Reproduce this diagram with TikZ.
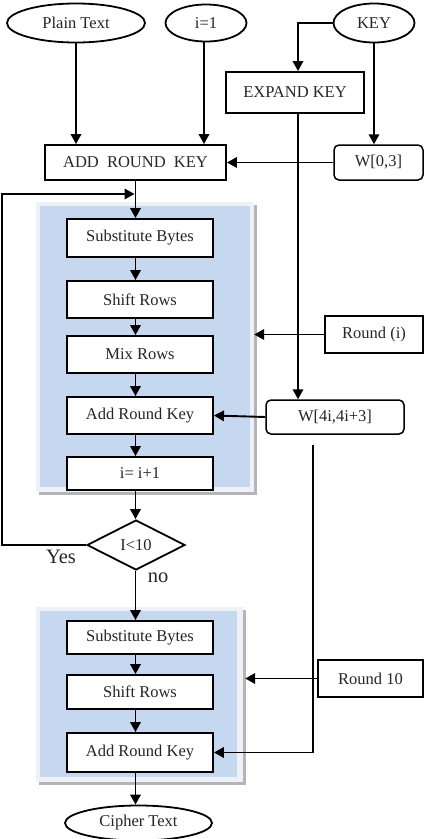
\documentclass[tikz,border=0pt]{standalone}
\usepackage{fontspec}
\setmainfont{Liberation Serif}
\usetikzlibrary{shapes.geometric,arrows.meta}
\definecolor{bgblue}{HTML}{C6D8F0}
\definecolor{bglight}{HTML}{EEF2F8}
\definecolor{bgshadow}{HTML}{B5B5B5}
\definecolor{txt}{HTML}{262626}
\tikzset{
  every node/.style={font=\fontsize{16.5}{19}\selectfont, text=txt},
  stepbox/.style={draw, line width=1.9pt, fill=white, rectangle, inner sep=0pt},
  rbox/.style={draw, line width=1.5pt, fill=white, rectangle, rounded corners=5pt, inner sep=0pt},
  ell/.style={draw, line width=1.8pt, fill=white, ellipse, inner sep=0pt},
  dia/.style={draw, line width=1.8pt, fill=white, diamond, inner sep=0pt},
  arr/.style={line width=1.9pt, -{Triangle[length=10pt,width=10.5pt]}},
  ln/.style={line width=1.9pt},
  outerbg/.style={fill=bglight, inner sep=0pt, rectangle},
  innerbg/.style={fill=bgblue, inner sep=0pt, rectangle},
  lbl/.style={font=\fontsize{20.5}{24}\selectfont, inner sep=0pt}
}
\begin{document}
\begin{tikzpicture}[x=1pt,y=-1pt]
\useasboundingbox (0,0) rectangle (429,839);
\fill[white] (0,0) rectangle (429,839);
% background panels
\fill[bgshadow] (39,205) rectangle (257,495);
\node[outerbg, minimum width=218pt, minimum height=290pt] (bg1) at (145,347) {};
\node[innerbg, minimum width=210pt, minimum height=281pt] (bg1in) at (145,346.5) {};
\fill[bgshadow] (38.5,610) rectangle (245.5,785);
\node[outerbg, minimum width=207pt, minimum height=175pt] (bg2) at (139.5,694.5) {};
\node[innerbg, minimum width=197pt, minimum height=166pt] (bg2in) at (138.5,694) {};
% top nodes
\node[ell, minimum width=138pt, minimum height=39pt] (pt) at (76,23) {Plain Text};
\node[ell, minimum width=81pt, minimum height=37pt] (i1) at (206,23) {i=1};
\node[ell, minimum width=81pt, minimum height=39pt] (key) at (374,23) {KEY};
\node[stepbox, minimum width=138pt, minimum height=41pt] (exp) at (295,92.5) {EXPAND KEY};
\node[stepbox, minimum width=181pt, minimum height=35pt] (ark) at (135.5,162.5) {ADD\ \ ROUND\ \ KEY};
\node[rbox, minimum width=89pt, minimum height=35pt] (w03) at (378.5,162.5) {W[0,3]};
% round loop
\node[stepbox, minimum width=146pt, minimum height=38pt] (sb1) at (140,238) {Substitute Bytes};
\node[stepbox, minimum width=146pt, minimum height=37pt] (sr1) at (140,299.5) {Shift Rows};
\node[stepbox, minimum width=146pt, minimum height=37pt] (mr1) at (140,354.5) {Mix Rows};
\node[stepbox, minimum width=146pt, minimum height=37pt] (ark1) at (140,415.5) {Add Round Key};
\node[stepbox, minimum width=146pt, minimum height=33pt] (inc) at (140,473.5) {i= i+1};
\node[dia, minimum width=98pt, minimum height=50pt] (cond) at (136,545) {I<10};
\node[stepbox, minimum width=98pt, minimum height=37pt] (rdi) at (374,334.5) {Round (i)};
\node[rbox, minimum width=138pt, minimum height=34pt] (w4) at (335,417) {W[4i,4i+3]};
% final round
\node[stepbox, minimum width=146pt, minimum height=33pt] (sb2) at (140,637.5) {Substitute Bytes};
\node[stepbox, minimum width=146pt, minimum height=34pt] (sr2) at (140,692) {Shift Rows};
\node[stepbox, minimum width=146pt, minimum height=39pt] (ark2) at (140,752.5) {Add Round Key};
\node[stepbox, minimum width=105pt, minimum height=37pt] (rd10) at (370.5,678.5) {Round 10};
\node[ell, minimum width=147pt, minimum height=35pt] (ct) at (138.5,823) {Cipher Text};
% labels
\node[lbl] (yes) at (61,557) {Yes};
\node[lbl] (no) at (158,578) {no};
% coordinates
\coordinate (col) at (135.5,0);
\coordinate (loopin) at (135.5,194);
\coordinate (loopx) at (2,0);
\coordinate (w4tail) at (313,445);
% connectors top
\draw[arr] (pt.south) -- (pt.south |- ark.north);
\draw[arr] ([xshift=-2pt]i1.south) -- ([xshift=-2pt]i1.south |- ark.north);
\draw[arr] (key.west) -| ([xshift=3pt]exp.north);
\draw[arr] (key.south) -- (key.south |- w03.north);
\draw[arr] (w03.west) -- (ark.east);
\draw[arr] ([xshift=3pt]exp.south) -- ([xshift=3pt]exp.south |- w4.north);
% main column
\draw[arr] (ark.south) -- (col |- sb1.north);
\draw[arr] (col |- sb1.south) -- (col |- sr1.north);
\draw[arr] (col |- sr1.south) -- (col |- mr1.north);
\draw[arr] (col |- mr1.south) -- (col |- ark1.north);
\draw[arr] (col |- ark1.south) -- (col |- inc.north);
\draw[arr] (col |- inc.south) -- (col |- cond.north);
\draw[arr] (col |- cond.south) -- (col |- sb2.north);
\draw[arr] (col |- sb2.south) -- (col |- sr2.north);
\draw[arr] (col |- sr2.south) -- (col |- ark2.north);
\draw[arr] (col |- ark2.south) -- (col |- ct.north);
% loop back
\draw[arr] (cond.west) -- (loopx |- cond.west) -- (loopx |- loopin) -- ([xshift=-1pt]loopin);
% side inputs
\draw[arr] (rdi.west) -- (bg1.east |- rdi.west);
\draw[arr] (w4.west) -- (ark1.east);
\draw[arr] (rd10.west) -- ([xshift=2pt]bg2.east |- rd10.west);
\draw[arr] (w4tail) |- (ark2.east);
\end{tikzpicture}
\end{document}
